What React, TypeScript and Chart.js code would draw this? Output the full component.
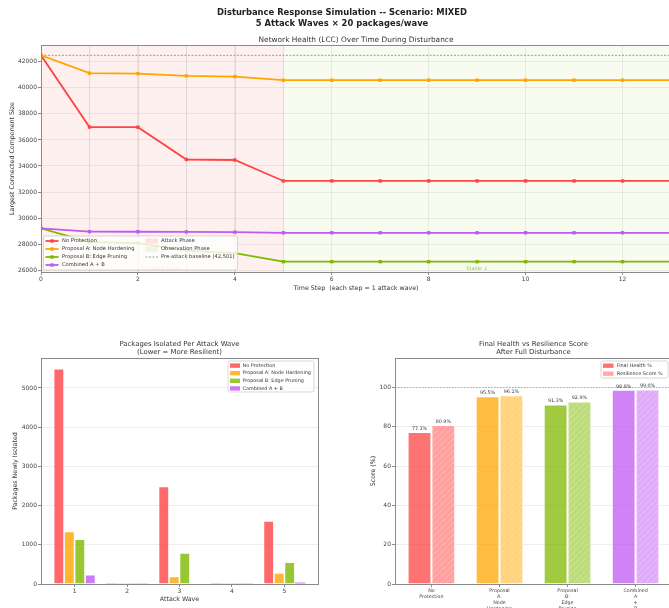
import React, { useEffect, useRef } from 'react';
import { Chart, registerables } from 'chart.js';
Chart.register(...registerables);

const FONT = "'DejaVu Sans', 'Liberation Sans', sans-serif";
const TEXT = '#333333';
const TICK_TEXT = '#444444';
const SPINE = '#8a8a8a';
const GRID = 'rgba(176,176,176,0.22)';

// ---------------- data ----------------
const figureTitle = ['Disturbance Response Simulation -- Scenario: MIXED', '5 Attack Waves \u00d7 20 packages/wave'];
const FIG_WIDTH = 684;

const seriesNames = ['No Protection', 'Proposal A: Node Hardening', 'Proposal B: Edge Pruning', 'Combined A + B'];
const seriesColors = ['#FF4444', '#FFA500', '#80B800', '#BF5AF2'];

// Top: LCC over time
const timeSteps = [0, 1, 2, 3, 4, 5, 6, 7, 8, 9, 10, 11, 12, 13];
const lccNoProtection = [42501, 36990, 36980, 34500, 34460, 32850, 32850, 32850, 32850, 32850, 32850, 32850, 32850, 32850];
const lccProposalA = [42501, 41130, 41100, 40920, 40870, 40590, 40590, 40590, 40590, 40590, 40590, 40590, 40590, 40590];
const lccProposalB = [29210, 28150, 28080, 27500, 27300, 26650, 26650, 26650, 26650, 26650, 26650, 26650, 26650, 26650];
const lccCombined = [29210, 28960, 28950, 28940, 28920, 28870, 28870, 28870, 28870, 28870, 28870, 28870, 28870, 28870];
const baselineLCC = 42501;
const lccYTicks = [26000, 28000, 30000, 32000, 34000, 36000, 38000, 40000, 42000];
const lccXTicks = [0, 2, 4, 6, 8, 10, 12];
const lccYRange = [25857, 43294];
const lccXRange = [0, 13];
const attackWaveSteps = [1, 2, 3, 4, 5];
const attackPhase = [0, 5];
const observationPhase = [5, 13];
const attackNote = { text: '\u2190 Attack waves', x: 2.5, y: 26100 };
const stableNote = { text: 'Stable \u2193', x: 9, y: 26100 };

// Bottom left: isolated per wave
const waveLabels = [1, 2, 3, 4, 5];
const isolatedNoProtection = [5490, 20, 2490, 20, 1610];
const isolatedProposalA = [1340, 20, 190, 20, 280];
const isolatedProposalB = [1140, 20, 790, 20, 555];
const isolatedCombined = [235, 20, 0, 20, 38];
const isolatedYTicks = [0, 1000, 2000, 3000, 4000, 5000];
const isolatedYMax = 5765;
const isolatedXRange = [0.36, 5.64];

// Bottom right: final health vs resilience
const scoreCategories = [
  ['No', 'Protection'],
  ['Proposal', 'A:', 'Node', 'Hardening'],
  ['Proposal', 'B:', 'Edge', 'Pruning'],
  ['Combined', 'A', '+', 'B'],
];
const finalHealth = [77.3, 95.5, 91.3, 98.8];
const resilienceScore = [80.9, 96.1, 92.9, 99.0];
const scoreNames = ['Final Health %', 'Resilience Score %'];
const scoreYTicks = [0, 20, 40, 60, 80, 100];
const scoreYMax = 115;
const scoreReference = 100;
const scoreXRange = [-0.535, 3.535];

// ---------------- helpers ----------------
function withAlpha(hex: string, a: number) {
  const n = parseInt(hex.slice(1), 16);
  return `rgba(${(n >> 16) & 255},${(n >> 8) & 255},${n & 255},${a})`;
}
function cssFont(size: number, weight = 'normal') {
  return `${weight} ${size}px ${FONT}`;
}
function drawText(ctx: CanvasRenderingContext2D, s: string, x: number, y: number, size: number, color: string, align: CanvasTextAlign = 'center', weight = 'normal') {
  ctx.save();
  ctx.font = cssFont(size, weight);
  ctx.fillStyle = color;
  ctx.textAlign = align;
  ctx.textBaseline = 'middle';
  ctx.fillText(s, x, y);
  ctx.restore();
}
function roundRectPath(ctx: CanvasRenderingContext2D, x: number, y: number, w: number, h: number, r: number) {
  ctx.beginPath();
  ctx.moveTo(x + r, y);
  ctx.lineTo(x + w - r, y);
  ctx.quadraticCurveTo(x + w, y, x + w, y + r);
  ctx.lineTo(x + w, y + h - r);
  ctx.quadraticCurveTo(x + w, y + h, x + w - r, y + h);
  ctx.lineTo(x + r, y + h);
  ctx.quadraticCurveTo(x, y + h, x, y + h - r);
  ctx.lineTo(x, y + r);
  ctx.quadraticCurveTo(x, y, x + r, y);
  ctx.closePath();
}
function legendBox(ctx: CanvasRenderingContext2D, x: number, y: number, w: number, h: number) {
  ctx.save();
  roundRectPath(ctx, x, y, w, h, 2);
  ctx.fillStyle = 'rgba(255,255,255,0.8)';
  ctx.fill();
  ctx.strokeStyle = 'rgba(200,200,200,0.9)';
  ctx.lineWidth = 0.8;
  ctx.stroke();
  ctx.restore();
}
function spines(chart: any) {
  const { ctx, chartArea: a } = chart;
  ctx.save();
  ctx.strokeStyle = SPINE;
  ctx.lineWidth = 1;
  ctx.strokeRect(Math.round(a.left) + 0.5, Math.round(a.top) + 0.5, Math.round(a.right - a.left), Math.round(a.bottom - a.top));
  ctx.restore();
}
function titleLines(chart: any, lines: string[], lastY: number, size: number) {
  const a = chart.chartArea;
  const cx = (a.left + a.right) / 2;
  const lh = size * 1.2;
  lines.forEach((l, i) => drawText(chart.ctx, l, cx, a.top - lastY - (lines.length - 1 - i) * lh, size, TEXT));
}
function makeHatch(fill: string) {
  const c = document.createElement('canvas');
  c.width = 6;
  c.height = 6;
  const g = c.getContext('2d')!;
  g.fillStyle = '#ffffff';
  g.fillRect(0, 0, 6, 6);
  g.fillStyle = fill;
  g.fillRect(0, 0, 6, 6);
  g.strokeStyle = 'rgba(255,255,255,0.28)';
  g.lineWidth = 0.8;
  g.beginPath();
  g.moveTo(0, 6); g.lineTo(6, 0);
  g.moveTo(-1, 1); g.lineTo(1, -1);
  g.moveTo(5, 7); g.lineTo(7, 5);
  g.stroke();
  return g.createPattern(c, 'repeat')!;
}
const tickFont = (size: number) => ({ family: FONT, size });

// ---------------- top chart ----------------
function buildTopConfig(): any {
  const series = [lccNoProtection, lccProposalA, lccProposalB, lccCombined];
  const datasets: any[] = series.map((vals, i) => ({
    label: seriesNames[i],
    data: timeSteps.map((s, j) => ({ x: s, y: vals[j] })),
    borderColor: seriesColors[i],
    backgroundColor: seriesColors[i],
    borderWidth: 1.8,
    pointStyle: 'rect',
    pointRadius: 2.4,
    pointBorderWidth: 0,
    tension: 0,
    order: series.length - i,
  }));
  datasets.push({
    label: 'baseline',
    data: [
      { x: lccXRange[0], y: baselineLCC },
      { x: lccXRange[1], y: baselineLCC },
    ],
    borderColor: 'rgba(120,120,120,0.8)',
    borderDash: [2, 1.5],
    borderWidth: 0.9,
    pointRadius: 0,
    order: 10,
  });

  const bgPlugin = {
    id: 'phases',
    beforeDatasetsDraw(chart: any) {
      const { ctx, chartArea: a, scales } = chart;
      const x = scales.x;
      ctx.save();
      ctx.fillStyle = 'rgba(255,60,60,0.075)';
      ctx.fillRect(x.getPixelForValue(attackPhase[0]), a.top, x.getPixelForValue(attackPhase[1]) - x.getPixelForValue(attackPhase[0]), a.bottom - a.top);
      ctx.fillStyle = 'rgba(120,180,0,0.06)';
      ctx.fillRect(x.getPixelForValue(observationPhase[0]), a.top, x.getPixelForValue(observationPhase[1]) - x.getPixelForValue(observationPhase[0]), a.bottom - a.top);
      ctx.strokeStyle = 'rgba(128,128,128,0.25)';
      ctx.lineWidth = 0.9;
      attackWaveSteps.forEach((s) => {
        const px = Math.round(x.getPixelForValue(s)) + 0.5;
        ctx.beginPath();
        ctx.moveTo(px, a.top);
        ctx.lineTo(px, a.bottom);
        ctx.stroke();
      });
      ctx.restore();
    },
    afterDatasetsDraw(chart: any) {
      const { ctx, scales } = chart;
      drawText(ctx, attackNote.text, scales.x.getPixelForValue(attackNote.x), scales.y.getPixelForValue(attackNote.y), 5, 'rgba(255,68,68,0.55)');
      drawText(ctx, stableNote.text, scales.x.getPixelForValue(stableNote.x), scales.y.getPixelForValue(stableNote.y), 5, 'rgba(128,184,0,0.75)');
      spines(chart);
    },
    afterDraw(chart: any) {
      const { ctx, chartArea: a } = chart;
      drawText(ctx, figureTitle[0], FIG_WIDTH / 2, 13.3, 8.4, '#222', 'center', 'bold');
      drawText(ctx, figureTitle[1], FIG_WIDTH / 2, 23.5, 8.4, '#222', 'center', 'bold');
      titleLines(chart, ['Network Health (LCC) Over Time During Disturbance'], 5, 7.4);
      // legend
      const lx = a.left + 2.5;
      const ly = a.bottom - 36;
      legendBox(ctx, lx, ly, 194, 34);
      const rowY = (i: number) => ly + 5 + i * 8;
      seriesNames.forEach((name, i) => {
        const y = rowY(i);
        ctx.save();
        ctx.strokeStyle = seriesColors[i];
        ctx.lineWidth = 1.8;
        ctx.beginPath();
        ctx.moveTo(lx + 2, y);
        ctx.lineTo(lx + 15, y);
        ctx.stroke();
        ctx.fillStyle = seriesColors[i];
        ctx.fillRect(lx + 8.5 - 1.7, y - 1.7, 3.4, 3.4);
        ctx.restore();
        drawText(ctx, name, lx + 18.5, y, 5.2, TEXT, 'left');
      });
      const c2 = lx + 102;
      ctx.save();
      ctx.fillStyle = 'rgba(255,60,60,0.14)';
      ctx.fillRect(c2, rowY(0) - 2.6, 12.5, 5.2);
      ctx.fillStyle = 'rgba(120,180,0,0.12)';
      ctx.fillRect(c2, rowY(1) - 2.6, 12.5, 5.2);
      ctx.strokeStyle = 'rgba(120,120,120,0.8)';
      ctx.setLineDash([2, 1.5]);
      ctx.lineWidth = 0.9;
      ctx.beginPath();
      ctx.moveTo(c2, rowY(2));
      ctx.lineTo(c2 + 12.5, rowY(2));
      ctx.stroke();
      ctx.restore();
      drawText(ctx, 'Attack Phase', c2 + 15.5, rowY(0), 5.2, TEXT, 'left');
      drawText(ctx, 'Observation Phase', c2 + 15.5, rowY(1), 5.2, TEXT, 'left');
      drawText(ctx, `Pre-attack baseline (${baselineLCC.toLocaleString('en-US')})`, c2 + 15.5, rowY(2), 5.2, TEXT, 'left');
    },
  };

  return {
    type: 'line',
    data: { datasets },
    options: {
      animation: false,
      responsive: false,
      maintainAspectRatio: false,
      layout: { padding: { top: 45, left: 0, right: 49, bottom: 0 } },
      plugins: { legend: { display: false }, tooltip: { enabled: false }, title: { display: false } },
      scales: {
        x: {
          type: 'linear',
          min: lccXRange[0],
          max: lccXRange[1],
          afterBuildTicks: (s: any) => { s.ticks = lccXTicks.map((v) => ({ value: v })); },
          afterFit: (s: any) => { s.height = 28; },
          grid: { color: GRID, tickLength: 3, tickColor: SPINE },
          border: { display: false },
          ticks: { font: tickFont(6), color: TICK_TEXT, padding: 0.6, maxRotation: 0, autoSkip: false, callback: (v: any) => String(v) },
          title: { display: true, text: 'Time Step  (each step = 1 attack wave)', font: tickFont(6.3), color: TEXT, padding: { top: 0, bottom: 8.2 } },
        },
        y: {
          min: lccYRange[0],
          max: lccYRange[1],
          afterBuildTicks: (s: any) => { s.ticks = lccYTicks.map((v) => ({ value: v })); },
          afterFit: (s: any) => { s.width = 41; },
          grid: { color: GRID, tickLength: 3, tickColor: SPINE },
          border: { display: false },
          ticks: { font: tickFont(6), color: TICK_TEXT, padding: 1, callback: (v: any) => String(v) },
          title: { display: true, text: 'Largest Connected Component Size', font: tickFont(6.3), color: TEXT, padding: { top: 8.2, bottom: 0 } },
        },
      },
    },
    plugins: [bgPlugin],
  };
}

// ---------------- bottom left ----------------
function buildIsolatedConfig(): any {
  const series = [isolatedNoProtection, isolatedProposalA, isolatedProposalB, isolatedCombined];
  const plug = {
    id: 'isoDecor',
    afterDatasetsDraw(chart: any) { spines(chart); },
    afterDraw(chart: any) {
      const { ctx, chartArea: a } = chart;
      titleLines(chart, ['Packages Isolated Per Attack Wave', '(Lower = More Resilient)'], 6, 6.9);
      const w = 86;
      const lx = a.right - 4 - w;
      const ly = a.top + 3;
      legendBox(ctx, lx, ly, w, 31);
      seriesNames.forEach((name, i) => {
        const y = ly + 4.6 + i * 7.6;
        ctx.save();
        ctx.fillStyle = withAlpha(seriesColors[i], 0.8);
        ctx.fillRect(lx + 2, y - 2.2, 10, 4.4);
        ctx.restore();
        drawText(ctx, name, lx + 14.5, y, 4.9, TEXT, 'left');
      });
    },
  };
  return {
    type: 'bar',
    data: {
      datasets: series.map((vals, i) => ({
        label: seriesNames[i],
        data: waveLabels.map((w, j) => ({ x: w, y: vals[j] })),
        backgroundColor: withAlpha(seriesColors[i], 0.8),
        borderColor: '#ffffff',
        borderWidth: (c: any) => (c.raw && c.raw.y < 100 ? 0 : 0.8),
        categoryPercentage: 0.8,
        barPercentage: 1,
      })),
    },
    options: {
      animation: false,
      responsive: false,
      maintainAspectRatio: false,
      layout: { padding: { top: 28, left: 0, right: 22, bottom: 0 } },
      plugins: { legend: { display: false }, tooltip: { enabled: false } },
      scales: {
        x: {
          type: 'linear',
          offset: false,
          min: isolatedXRange[0],
          max: isolatedXRange[1],
          afterBuildTicks: (s: any) => { s.ticks = waveLabels.map((v) => ({ value: v })); },
          afterFit: (s: any) => { s.height = 24; },
          grid: { drawOnChartArea: false, tickLength: 3, tickColor: SPINE, offset: false },
          border: { display: false },
          ticks: { font: tickFont(6), color: TICK_TEXT, padding: 1.1, maxRotation: 0, autoSkip: false, callback: (v: any) => String(v) },
          title: { display: true, text: 'Attack Wave', font: tickFont(6.3), color: TEXT, padding: { top: 0, bottom: 5.2 } },
        },
        y: {
          min: 0,
          max: isolatedYMax,
          afterBuildTicks: (s: any) => { s.ticks = isolatedYTicks.map((v) => ({ value: v })); },
          afterFit: (s: any) => { s.width = 41; },
          grid: { color: GRID, tickLength: 3, tickColor: SPINE },
          border: { display: false },
          ticks: { font: tickFont(6), color: TICK_TEXT, padding: 1, callback: (v: any) => String(v) },
          title: { display: true, text: 'Packages Newly Isolated', font: tickFont(6.3), color: TEXT, padding: { top: 11.2, bottom: 0 } },
        },
      },
    },
    plugins: [plug],
  };
}

// ---------------- bottom right ----------------
function buildScoreConfig(): any {
  const healthColors = seriesColors.map((c) => withAlpha(c, 0.75));
  const resColors = seriesColors.map((c) => makeHatch(withAlpha(c, 0.5)));
  const values = [finalHealth, resilienceScore];
  const plug = {
    id: 'scoreDecor',
    beforeDatasetsDraw(chart: any) {
      const { ctx, chartArea: a, scales } = chart;
      const y = Math.round(scales.y.getPixelForValue(scoreReference)) + 0.5;
      ctx.save();
      ctx.strokeStyle = 'rgba(120,120,120,0.7)';
      ctx.setLineDash([1.5, 1.5]);
      ctx.lineWidth = 0.8;
      ctx.beginPath();
      ctx.moveTo(a.left, y);
      ctx.lineTo(a.right, y);
      ctx.stroke();
      ctx.restore();
    },
    afterDatasetsDraw(chart: any) {
      const { ctx } = chart;
      chart.data.datasets.forEach((ds: any, di: number) => {
        const meta = chart.getDatasetMeta(di);
        meta.data.forEach((bar: any, i: number) => {
          drawText(ctx, `${values[di][i].toFixed(1)}%`, bar.x, bar.y - 3.5, 4.8, TEXT);
        });
      });
      spines(chart);
    },
    afterDraw(chart: any) {
      const { ctx, chartArea: a } = chart;
      titleLines(chart, ['Final Health vs Resilience Score', 'After Full Disturbance'], 6, 6.9);
      const w = 67;
      const lx = a.right - 4 - w;
      const ly = a.top + 3;
      legendBox(ctx, lx, ly, w, 17);
      const swatches = [withAlpha(seriesColors[0], 0.75), withAlpha(seriesColors[0], 0.45)];
      scoreNames.forEach((name, i) => {
        const y = ly + 4.7 + i * 8;
        ctx.save();
        ctx.fillStyle = swatches[i];
        ctx.fillRect(lx + 2, y - 2.2, 10.5, 4.4);
        ctx.restore();
        drawText(ctx, name, lx + 15.7, y, 4.9, TEXT, 'left');
      });
    },
  };
  return {
    type: 'bar',
    data: {
      datasets: [
        {
          label: scoreNames[0],
          data: finalHealth.map((v, i) => ({ x: i, y: v })),
          backgroundColor: healthColors,
          borderColor: 'rgba(255,255,255,0.9)',
          borderWidth: 1,
          categoryPercentage: 0.7,
          barPercentage: 1,
        },
        {
          label: scoreNames[1],
          data: resilienceScore.map((v, i) => ({ x: i, y: v })),
          backgroundColor: resColors,
          borderColor: 'rgba(255,255,255,0.9)',
          borderWidth: 1,
          categoryPercentage: 0.7,
          barPercentage: 1,
        },
      ],
    },
    options: {
      animation: false,
      responsive: false,
      maintainAspectRatio: false,
      layout: { padding: { top: 28, left: 0, right: 28, bottom: 0 } },
      plugins: { legend: { display: false }, tooltip: { enabled: false } },
      scales: {
        x: {
          type: 'linear',
          offset: false,
          min: scoreXRange[0],
          max: scoreXRange[1],
          afterBuildTicks: (s: any) => { s.ticks = scoreCategories.map((_, i) => ({ value: i })); },
          afterFit: (s: any) => { s.height = 24; },
          grid: { drawOnChartArea: false, tickLength: 3, tickColor: SPINE, offset: false },
          border: { display: false },
          ticks: { font: { family: FONT, size: 4.8, lineHeight: 1.25 }, color: TICK_TEXT, padding: 1, maxRotation: 0, autoSkip: false, callback: (v: any) => scoreCategories[Math.round(v)] },
        },
        y: {
          min: 0,
          max: scoreYMax,
          afterBuildTicks: (s: any) => { s.ticks = scoreYTicks.map((v) => ({ value: v })); },
          afterFit: (s: any) => { s.width = 55; },
          grid: { color: GRID, tickLength: 3, tickColor: SPINE },
          border: { display: false },
          ticks: { font: tickFont(6), color: TICK_TEXT, padding: 1, callback: (v: any) => String(v) },
          title: { display: true, text: 'Score (%)', font: tickFont(6.3), color: TEXT, padding: { top: 29.2, bottom: 0 } },
        },
      },
    },
    plugins: [plug],
  };
}

export default function App() {
  const topRef = useRef<HTMLCanvasElement>(null);
  const blRef = useRef<HTMLCanvasElement>(null);
  const brRef = useRef<HTMLCanvasElement>(null);

  useEffect(() => {
    document.body.style.margin = '0';
    document.body.style.overflow = 'hidden';
    const charts = [
      new Chart(topRef.current as HTMLCanvasElement, buildTopConfig()),
      new Chart(blRef.current as HTMLCanvasElement, buildIsolatedConfig()),
      new Chart(brRef.current as HTMLCanvasElement, buildScoreConfig()),
    ];
    return () => charts.forEach((c) => c.destroy());
  }, []);

  return (
    <div style={{ position: 'relative', width: 669, height: 608, overflow: 'hidden', background: '#ffffff' }}>
      <canvas ref={topRef} width={720} height={300} style={{ position: 'absolute', left: 0, top: 0, width: 720, height: 300 }} />
      <canvas ref={blRef} width={340} height={278} style={{ position: 'absolute', left: 0, top: 330, width: 340, height: 278 }} />
      <canvas ref={brRef} width={360} height={278} style={{ position: 'absolute', left: 340, top: 330, width: 360, height: 278 }} />
    </div>
  );
}
